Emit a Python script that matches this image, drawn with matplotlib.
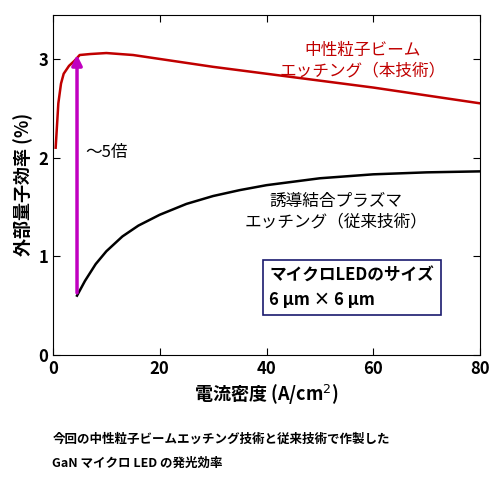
import matplotlib
matplotlib.use("Agg")
import matplotlib.pyplot as plt
import numpy as np

plt.rcParams['font.family'] = ['Noto Sans CJK JP', 'DejaVu Sans']

red_x = [0.5, 1, 1.5, 2, 3, 4, 5, 7, 10, 15, 20, 30, 40, 50, 60, 70, 80]
red_y = [2.1, 2.55, 2.75, 2.85, 2.93, 2.98, 3.04, 3.05, 3.06, 3.04, 3.0, 2.92, 2.85, 2.78, 2.71, 2.63, 2.55]
blk_x = [4.5, 5, 6, 8, 10, 13, 16, 20, 25, 30, 35, 40, 50, 60, 70, 80]
blk_y = [0.6, 0.65, 0.75, 0.92, 1.05, 1.2, 1.31, 1.42, 1.53, 1.61, 1.67, 1.72, 1.79, 1.83, 1.85, 1.86]

fig = plt.figure(figsize=(5, 4.86), dpi=100)
ax = fig.add_axes([0.106, 0.27, 0.854, 0.70])
ax.plot(red_x, red_y, color='#c00000', lw=1.8)
ax.plot(blk_x, blk_y, color='black', lw=1.8)
ax.annotate('', xy=(4.5, 3.07), xytext=(4.5, 0.6),
            arrowprops=dict(arrowstyle='-|>', color='#c000c0', lw=2.5, mutation_scale=15))
ax.text(6, 2.05, '～5倍', fontsize=12, va='center')
ax.text(58, 2.98, '中性粒子ビーム\nエッチング（本技術）', color='#c00000', fontsize=12, ha='center', va='center', linespacing=1.25)
ax.text(53, 1.45, '誘導結合プラズマ\nエッチング（従来技術）', color='black', fontsize=12, ha='center', va='center', linespacing=1.25)
ax.text(40.5, 0.68, 'マイクロLEDのサイズ\n6 μm × 6 μm', fontsize=12, fontweight='bold', va='center', linespacing=1.4,
        bbox=dict(boxstyle='square,pad=0.4', fc='white', ec='#1a1a6e', lw=1.2))
ax.set_xlim(0, 80)
ax.set_ylim(0, 3.45)
ax.set_xticks([0, 20, 40, 60, 80])
ax.set_yticks([0, 1, 2, 3])
ax.tick_params(labelsize=12, direction='in', top=True, right=True, length=5)
for lab in ax.get_xticklabels() + ax.get_yticklabels():
    lab.set_fontweight('bold')
ax.set_xlabel('電流密度 (A/cm$^2$)', fontsize=13, fontweight='bold')
ax.set_ylabel('外部量子効率 (%)', fontsize=13, fontweight='bold')
fig.text(0.105, 0.072, '今回の中性粒子ビームエッチング技術と従来技術で作製した\nGaN マイクロ LED の発光効率',
         fontsize=9, fontweight='bold', va='center', linespacing=2.1)
fig.savefig('out.png')
